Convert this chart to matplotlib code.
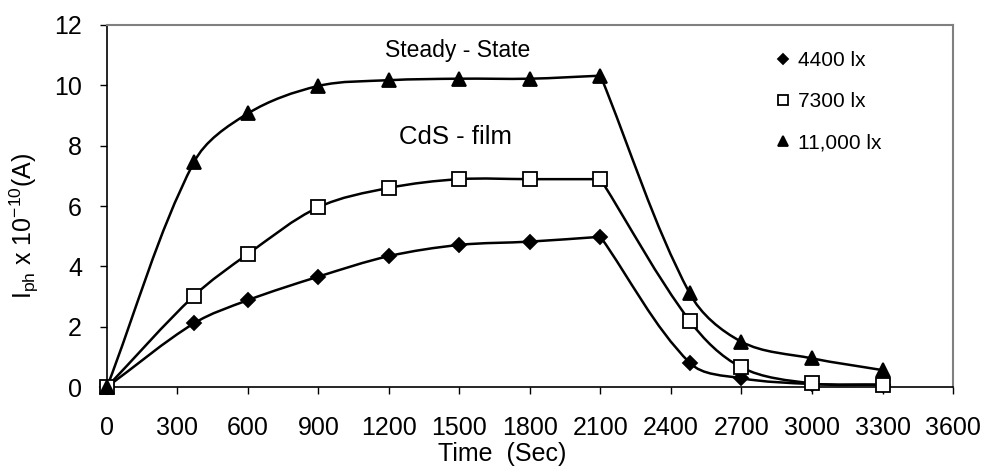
import math
import matplotlib
matplotlib.use('Agg')
import matplotlib.pyplot as plt
from matplotlib.path import Path
from matplotlib.patches import PathPatch

plt.rcParams['font.family'] = 'Liberation Sans'
plt.rcParams['mathtext.fontset'] = 'custom'
plt.rcParams['mathtext.rm'] = 'Liberation Sans'
plt.rcParams['mathtext.it'] = 'Liberation Sans:italic'

# photocurrent build-up and decay of the CdS film
time_s = [0, 370, 600, 900, 1200, 1500, 1800, 2100, 2480, 2700, 3000, 3300]
i_4400 = [0.0, 2.11, 2.88, 3.66, 4.34, 4.71, 4.82, 4.98, 0.80, 0.29, 0.10, 0.08]
i_7300 = [0.0, 3.02, 4.41, 5.96, 6.60, 6.89, 6.89, 6.89, 2.19, 0.65, 0.12, 0.07]
i_11000 = [0.0, 7.45, 9.07, 9.98, 10.17, 10.22, 10.22, 10.32, 3.10, 1.50, 0.95, 0.56]
labels = ['4400 lx', '7300 lx', '11,000 lx']
light_off = 2100  # light switched off here: curve has a corner

x_ticks = list(range(0, 3601, 300))
y_ticks = list(range(0, 13, 2))


def smooth_path(ax, xs, ys):
    # smoothed line through the points, built as cubic beziers in screen space
    tr = ax.transData
    pts = [tuple(p) for p in tr.transform(list(zip(xs, ys)))]
    n = len(pts)

    def unit(a, b):
        dx, dy = b[0] - a[0], b[1] - a[1]
        d = math.hypot(dx, dy) or 1.0
        return dx / d, dy / d

    dirs = []
    for i in range(n):
        a = pts[i - 1] if i > 0 else pts[i]
        b = pts[i + 1] if i < n - 1 else pts[i]
        dirs.append(unit(a, b))
    verts = [pts[0]]
    codes = [Path.MOVETO]
    for i in range(n - 1):
        p1, p2 = pts[i], pts[i + 1]
        L = math.hypot(p2[0] - p1[0], p2[1] - p1[1]) / 3
        c1 = (p1[0] + dirs[i][0] * L, p1[1] + dirs[i][1] * L)
        c2 = (p2[0] - dirs[i + 1][0] * L, p2[1] - dirs[i + 1][1] * L)
        verts += [c1, c2, p2]
        codes += [Path.CURVE4] * 3
    verts = tr.inverted().transform(verts)
    return Path(verts, codes)


fig = plt.figure(figsize=(9.84, 4.69), dpi=100)
ax = fig.add_axes([0.1087, 0.1748, 0.8598, 0.7719])
ax.set_xlim(0, 3600)
ax.set_ylim(0, 12)

series = [(i_4400, 'D', 'black', 7), (i_7300, 's', 'white', 9.5), (i_11000, '^', 'black', 10.5)]
k = time_s.index(light_off)
handles = []
for ys, mk, fc, ms in series:
    for xs_part, ys_part in [(time_s[:k + 1], ys[:k + 1]), (time_s[k:], ys[k:])]:
        ax.add_patch(PathPatch(smooth_path(ax, xs_part, ys_part), fill=False,
                               edgecolor='black', lw=1.8, zorder=2))
    h, = ax.plot(time_s, ys, linestyle='none', marker=mk, ms=ms, mfc=fc,
                 mec='black', mew=1.3, zorder=3, clip_on=False)
    handles.append(h)

ax.set_xticks(x_ticks)
ax.set_yticks(y_ticks)
ax.tick_params(axis='x', direction='out', length=5, width=1, pad=16, labelsize=18)
ax.tick_params(axis='y', direction='out', length=5, width=1, pad=13, labelsize=18)
for s in ['top', 'right']:
    ax.spines[s].set_color('#808080')
    ax.spines[s].set_linewidth(1.5)
for s in ['left', 'bottom']:
    ax.spines[s].set_linewidth(1.2)

ax.text(1494, 11.14, 'Steady - State', ha='center', va='center', fontsize=16.5)
ax.text(1481, 8.29, 'CdS - film', ha='center', va='center', fontsize=18.5)

ax.legend(handles, labels, loc='upper left', bbox_to_anchor=(0.793, 0.927),
          frameon=False, fontsize=15, handlelength=0.5, handletextpad=0.45,
          labelspacing=1.05, borderpad=0, borderaxespad=0, markerscale=0.75)

fig.text(502 / 984, 1 - 454 / 469, 'Time  (Sec)', ha='center', va='center', fontsize=18)
fig.text(24 / 984, 1 - 226 / 469, r'I$_{\mathrm{ph}}$ x 10$^{-10}$(A)', ha='center',
         va='center', rotation=90, fontsize=18)

plt.savefig('out.png', dpi=100, facecolor='white')
